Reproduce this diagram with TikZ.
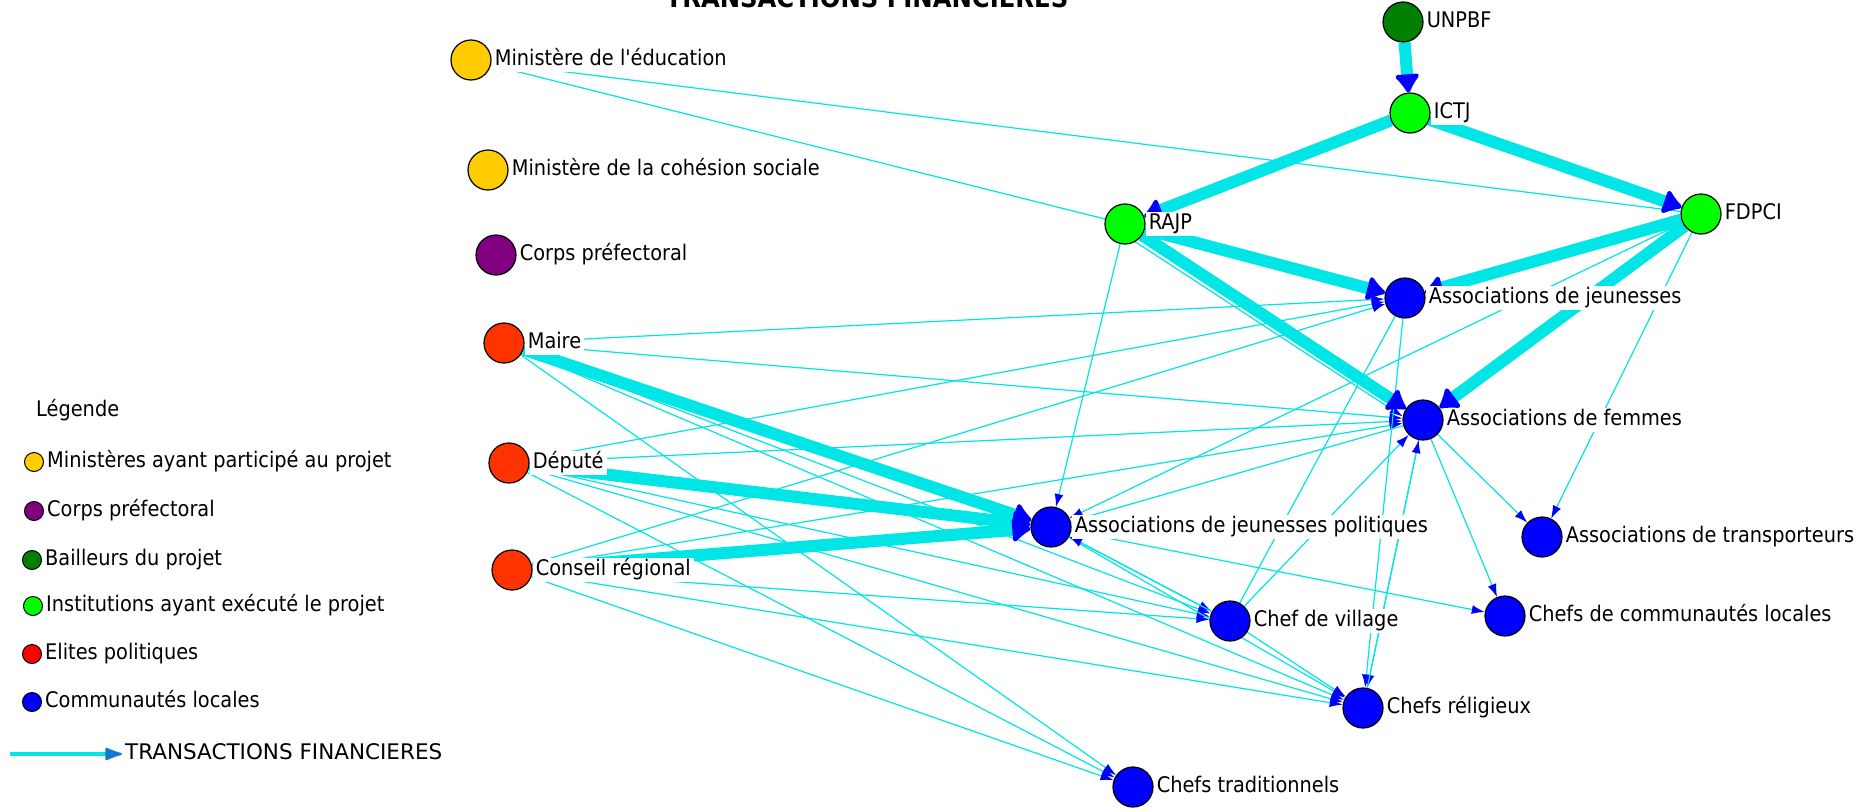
\documentclass[tikz,border=0pt]{standalone}
\usepackage{fontspec}
\newfontfamily\netfont{DejaVu Sans}[FakeStretch=0.9]
\newfontfamily\netwidefont{DejaVu Sans}
\usetikzlibrary{arrows.meta,positioning}

\definecolor{flowcyan}{RGB}{0,229,229}
\definecolor{mingold}{RGB}{255,204,0}
\definecolor{prefpurple}{RGB}{128,0,128}
\definecolor{donorgreen}{RGB}{0,128,0}
\definecolor{instgreen}{RGB}{0,255,0}
\definecolor{elitered}{RGB}{255,51,0}
\definecolor{legred}{RGB}{255,0,0}
\definecolor{commblue}{RGB}{0,0,255}
\definecolor{legarrow}{RGB}{20,120,210}

\pgfdeclarelayer{edges}
\pgfsetlayers{edges,main}

\tikzset{
  actor/.style={circle, draw=black, line width=1.2pt, minimum size=40pt, inner sep=0pt, fill=#1},
  legdot/.style={circle, draw=black, line width=1pt, minimum size=19pt, inner sep=0pt, fill=#1},
  lbl/.style={fill=white, inner xsep=3pt, inner ysep=2pt, text height=15.5pt, text depth=4.5pt,
    font=\netfont\fontsize{21.5}{24}\selectfont},
  finflow/.style={draw=flowcyan, line width=1.2pt, -{Latex[length=13pt,width=9pt,color=commblue]}},
  bigfinflow/.style={draw=flowcyan, line width=12pt, -{Latex[length=21pt,width=30pt,line width=5pt,round,color=commblue]}}
}

\begin{document}
\begin{tikzpicture}[x=1pt,y=-1pt]
\useasboundingbox (0,0) rectangle (1876,811);

\node[font=\netfont\bfseries\fontsize{27}{30}\selectfont, anchor=base] (title) at (867,8) {TRANSACTIONS FINANCIERES};

\node[actor=mingold] (minedu) at (471,60) {};
\node[actor=mingold] (mincoh) at (488,170) {};
\node[actor=prefpurple] (corps) at (496,255) {};
\node[actor=elitered] (maire) at (504,343) {};
\node[actor=elitered] (depute) at (509,463) {};
\node[actor=elitered] (conseil) at (512,570) {};
\node[actor=donorgreen] (unpbf) at (1403,22) {};
\node[actor=instgreen] (ictj) at (1410,113) {};
\node[actor=instgreen] (rajp) at (1125,224) {};
\node[actor=instgreen] (fdpci) at (1701,214) {};
\node[actor=commblue] (ajeun) at (1405,298) {};
\node[actor=commblue] (afem) at (1423,420) {};
\node[actor=commblue] (ajpol) at (1051,527) {};
\node[actor=commblue] (atrans) at (1542,537) {};
\node[actor=commblue] (cvill) at (1230,621) {};
\node[actor=commblue] (ccom) at (1505,616) {};
\node[actor=commblue] (crel) at (1363,708) {};
\node[actor=commblue] (ctrad) at (1133,787) {};

\node[lbl, right=0pt of minedu] {Ministère de l'éducation};
\node[lbl, right=0pt of mincoh] {Ministère de la cohésion sociale};
\node[lbl, right=0pt of corps] {Corps préfectoral};
\node[lbl, right=0pt of maire] {Maire};
\node[lbl, right=0pt of depute] {Député};
\node[lbl, right=0pt of conseil] {Conseil régional};
\node[lbl, right=0pt of unpbf] {UNPBF};
\node[lbl, right=0pt of ictj] {ICTJ};
\node[lbl, right=0pt of rajp] {RAJP};
\node[lbl, right=0pt of fdpci] {FDPCI};
\node[lbl, right=0pt of ajeun] {Associations de jeunesses};
\node[lbl, right=0pt of afem] {Associations de femmes};
\node[lbl, right=0pt of ajpol] {Associations de jeunesses politiques};
\node[lbl, right=0pt of atrans] {Associations de transporteurs};
\node[lbl, right=0pt of cvill] {Chef de village};
\node[lbl, right=0pt of ccom] {Chefs de communautés locales};
\node[lbl, right=0pt of crel] {Chefs réligieux};
\node[lbl, right=0pt of ctrad] {Chefs traditionnels};

\node[lbl, anchor=west] (legtitle) at (33,411) {Légende};
\node[legdot=mingold] (legmin) at (34,462) {};
\node[lbl, right=0pt of legmin] {Ministères ayant participé au projet};
\node[legdot=prefpurple] (legpref) at (34,511) {};
\node[lbl, right=0pt of legpref] {Corps préfectoral};
\node[legdot=donorgreen] (legdon) at (32,560) {};
\node[lbl, right=0pt of legdon] {Bailleurs du projet};
\node[legdot=instgreen] (leginst) at (33,606) {};
\node[lbl, right=0pt of leginst] {Institutions ayant exécuté le projet};
\node[legdot=legred] (legelit) at (32,654) {};
\node[lbl, right=0pt of legelit] {Elites politiques};
\node[legdot=commblue] (legcomm) at (32,702) {};
\node[lbl, right=0pt of legcomm] {Communautés locales};
\coordinate (legfrom) at (10,754);
\coordinate (legto) at (122,754);
\node[lbl, font=\netwidefont\fontsize{21.5}{24}\selectfont, right=0pt of legto] {TRANSACTIONS FINANCIERES};
\draw[draw=flowcyan, line width=4.5pt, -{Latex[length=20pt,width=14pt,line width=2pt,round,color=legarrow]}] (legfrom) -- (legto);

\begin{pgfonlayer}{edges}
\fill[white] (0,0) rectangle (1876,811);
\draw[finflow] (rajp) -- (minedu);
\draw[finflow] (fdpci) -- (minedu);
\draw[finflow] (rajp) -- (ajpol);
\draw[finflow] (rajp.-60) -- (afem.170);
\draw[finflow] (fdpci) -- (ajpol);
\draw[finflow] (fdpci) -- (atrans);
\foreach \src in {maire,depute,conseil}
  \foreach \dst in {ajeun,afem,cvill,crel,ctrad}
    \draw[finflow] (\src) -- (\dst);
\foreach \dst in {cvill,ccom,crel}
  \draw[finflow] (ajpol) -- (\dst);
\foreach \dst in {ajpol,afem,crel}
  \draw[finflow] (cvill) -- (\dst);
\foreach \dst in {crel,atrans,ccom,ajpol}
  \draw[finflow] (afem) -- (\dst);
\draw[finflow] (ajeun) -- (crel);
\draw[finflow] (crel) -- (afem);
\draw[draw=flowcyan, line width=1.2pt] (ajeun) -- (cvill);
\draw[bigfinflow] (unpbf) -- (ictj);
\draw[bigfinflow] (ictj) -- (rajp);
\draw[bigfinflow] (ictj) -- (fdpci);
\draw[bigfinflow] (rajp) -- (ajeun);
\draw[bigfinflow] (rajp) -- (afem);
\draw[bigfinflow] (fdpci) -- (ajeun);
\draw[bigfinflow] (fdpci) -- (afem);
\draw[bigfinflow] (maire) -- (ajpol);
\draw[bigfinflow] (depute) -- (ajpol);
\draw[bigfinflow] (conseil) -- (ajpol);
\end{pgfonlayer}
\end{tikzpicture}
\end{document}
